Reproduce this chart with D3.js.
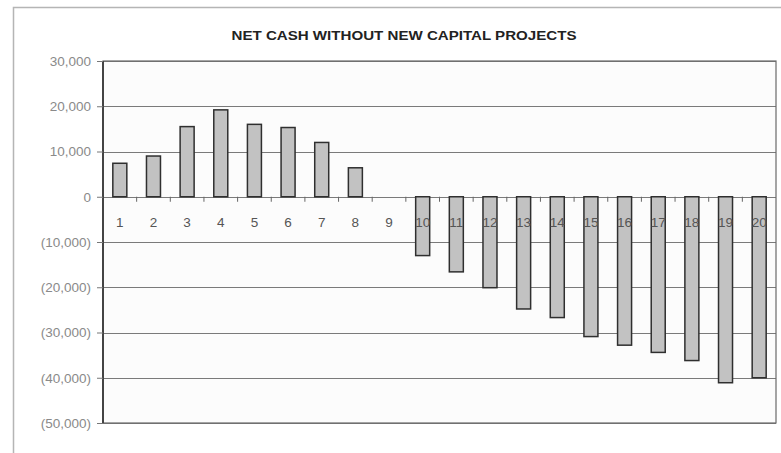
<!DOCTYPE html>
<html>
<head>
<meta charset="utf-8">
<script src="https://cdn.jsdelivr.net/npm/d3@7"></script>
<style>
  html, body { margin: 0; padding: 0; background: #fff; }
  svg { display: block; }
  text { font-family: "Liberation Sans", Arial, sans-serif; }
</style>
</head>
<body>
<script>
const title = "NET CASH WITHOUT NEW CAPITAL PROJECTS";
const categories = ["1","2","3","4","5","6","7","8","9","10","11","12","13","14","15","16","17","18","19","20"];
const values = [7400, 9000, 15500, 19200, 16000, 15300, 12000, 6400, 0, -13000, -16600, -20100, -24800, -26700, -30900, -32800, -34400, -36200, -41100, -40000];
const yTicks = [30000, 20000, 10000, 0, -10000, -20000, -30000, -40000, -50000];

const W = 781, H = 453;
const plot = { left: 103, top: 61, right: 776, bottom: 423 };

const svg = d3.select("body").append("svg").attr("width", W).attr("height", H);

// outer chart frame
svg.append("rect").attr("x", 13.5).attr("y", 7.5).attr("width", 800).attr("height", 500)
  .attr("fill", "#fff").attr("stroke", "#b5b5b5").attr("stroke-width", 1.5);

svg.append("text").attr("x", 404).attr("y", 39.5).attr("text-anchor", "middle")
  .attr("font-size", 12.5).attr("font-weight", "bold").attr("fill", "#222")
  .attr("textLength", 345).attr("lengthAdjust", "spacingAndGlyphs")
  .text(title);

const x = d3.scaleBand().domain(categories).range([plot.left, plot.right]).paddingInner(0).paddingOuter(0);
const y = d3.scaleLinear().domain([-50000, 30000]).range([plot.bottom, plot.top]);

// plot background
svg.append("rect").attr("x", plot.left).attr("y", plot.top)
  .attr("width", plot.right - plot.left).attr("height", plot.bottom - plot.top)
  .attr("fill", "#fcfcfc");

// gridlines
svg.append("g").selectAll("line").data(yTicks).join("line")
  .attr("x1", plot.left).attr("x2", plot.right)
  .attr("y1", d => Math.round(y(d)) + 0.5).attr("y2", d => Math.round(y(d)) + 0.5)
  .attr("stroke", "#7a7a7a").attr("stroke-width", 1);

// plot border
svg.append("rect").attr("x", plot.left).attr("y", plot.top)
  .attr("width", plot.right - plot.left).attr("height", plot.bottom - plot.top)
  .attr("fill", "none").attr("stroke", "#6a6a6a").attr("stroke-width", 1.2);
svg.append("line").attr("x1", plot.left).attr("x2", plot.left).attr("y1", plot.top).attr("y2", plot.bottom)
  .attr("stroke", "#444").attr("stroke-width", 2);

// y axis
const fmt = d3.format(",");
const yAxis = d3.axisLeft(y).tickValues(yTicks).tickSize(6).tickPadding(6)
  .tickFormat(d => d < 0 ? "(" + fmt(-d) + ")" : fmt(d));
const gy = svg.append("g").attr("transform", `translate(${plot.left},0)`).call(yAxis);
gy.select(".domain").remove();
gy.selectAll(".tick line").attr("stroke", "#777");
gy.selectAll(".tick text").attr("font-size", 13.5).attr("fill", "#8a8a8a")
  .attr("font-family", "'Liberation Sans', Arial, sans-serif");

// bars
const bw = 14;
svg.append("g").selectAll("rect").data(values.map((v, i) => ({ c: categories[i], v })).filter(d => d.v !== 0))
  .join("rect")
  .attr("x", d => x(d.c) + x.bandwidth() / 2 - bw / 2)
  .attr("y", d => y(Math.max(0, d.v)))
  .attr("width", bw)
  .attr("height", d => Math.abs(y(d.v) - y(0)))
  .attr("fill", "#c2c2c2").attr("stroke", "#2f2f2f").attr("stroke-width", 1.5);

// x axis at zero: small ticks at band boundaries below zero line
const gx = svg.append("g").attr("transform", `translate(0,${y(0)})`);
gx.selectAll("line").data(categories.slice(1)).join("line")
  .attr("x1", d => x(d)).attr("x2", d => x(d)).attr("y1", 0).attr("y2", 5)
  .attr("stroke", "#666").attr("stroke-width", 1);
gx.selectAll("text").data(categories).join("text")
  .attr("x", d => x(d) + x.bandwidth() / 2).attr("y", 30)
  .attr("text-anchor", "middle").attr("font-size", 13.5).attr("fill", "#555")
  .text(d => d);
</script>
</body>
</html>
